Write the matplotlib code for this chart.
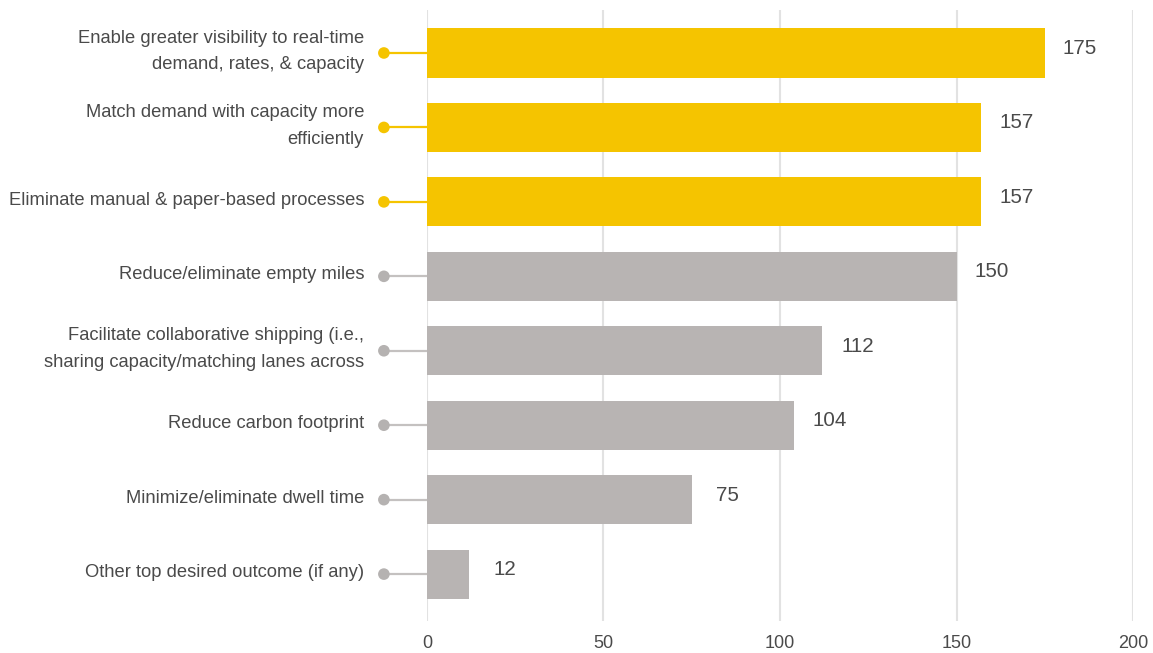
import numpy as np
import matplotlib.pyplot as plt

# =========================================
# DATA
# =========================================
outcomes = [
    "Enable greater visibility to real-time\ndemand, rates, & capacity",
    "Match demand with capacity more\nefficiently",
    "Eliminate manual & paper-based processes",
    "Reduce/eliminate empty miles",
    "Facilitate collaborative shipping (i.e.,\nsharing capacity/matching lanes across",
    "Reduce carbon footprint",
    "Minimize/eliminate dwell time",
    "Other top desired outcome (if any)",
]
counts = [175, 157, 157, 150, 112, 104, 75, 12]
highlighted = [True, True, True, False, False, False, False, False]
x_ticks = [0, 50, 100, 150, 200]

# =========================================
# STYLE
# =========================================
YELLOW = "#F5C400"
GRAY = "#B8B4B3"
STEM_GRAY = "#C4C1C0"
DOT_GRAY = "#B5B2B1"
TEXT = "#4A4A4A"
GRID = "#E2E2E2"

plt.rcParams["font.family"] = ["Liberation Sans", "DejaVu Sans"]

fig = plt.figure(figsize=(11.53, 6.53), dpi=100)
ax = fig.add_axes([0.3703, 0.049, 0.6124, 0.936])

y = np.arange(len(counts))
bar_colors = [YELLOW if h else GRAY for h in highlighted]

ax.barh(y, counts, height=0.66, color=bar_colors, zorder=3)

# lollipop stems on the left of the axis
dot_x = -12.2
label_x = -17.8
for yi, h in zip(y, highlighted):
    stem_c = YELLOW if h else STEM_GRAY
    dot_c = YELLOW if h else DOT_GRAY
    ax.plot([dot_x, 0], [yi, yi], color=stem_c, lw=1.6, clip_on=False, zorder=2)
    ax.scatter([dot_x], [yi], s=70, color=dot_c, clip_on=False, zorder=4,
               edgecolors="none")

for yi, txt in zip(y, outcomes):
    ax.text(label_x, yi - 0.02, txt, ha="right", va="center", fontsize=13.2,
            color=TEXT, linespacing=1.75, clip_on=False)

for yi, v in zip(y, counts):
    ax.text(v + 10, yi - 0.06, str(v), ha="center", va="center",
            fontsize=14.8, color=TEXT)

ax.set_xlim(0, 200)
ax.set_ylim(len(counts) - 1 + 0.63, -0.58)
ax.set_xticks(x_ticks)
ax.set_xticklabels([str(t) for t in x_ticks], fontsize=13, color=TEXT)
ax.set_yticks([])
ax.tick_params(axis="x", length=0, pad=10)

ax.grid(axis="x", color=GRID, lw=1.5, zorder=0)
ax.set_axisbelow(True)
for s in ax.spines.values():
    s.set_visible(False)

plt.savefig("out.png", dpi=100)
